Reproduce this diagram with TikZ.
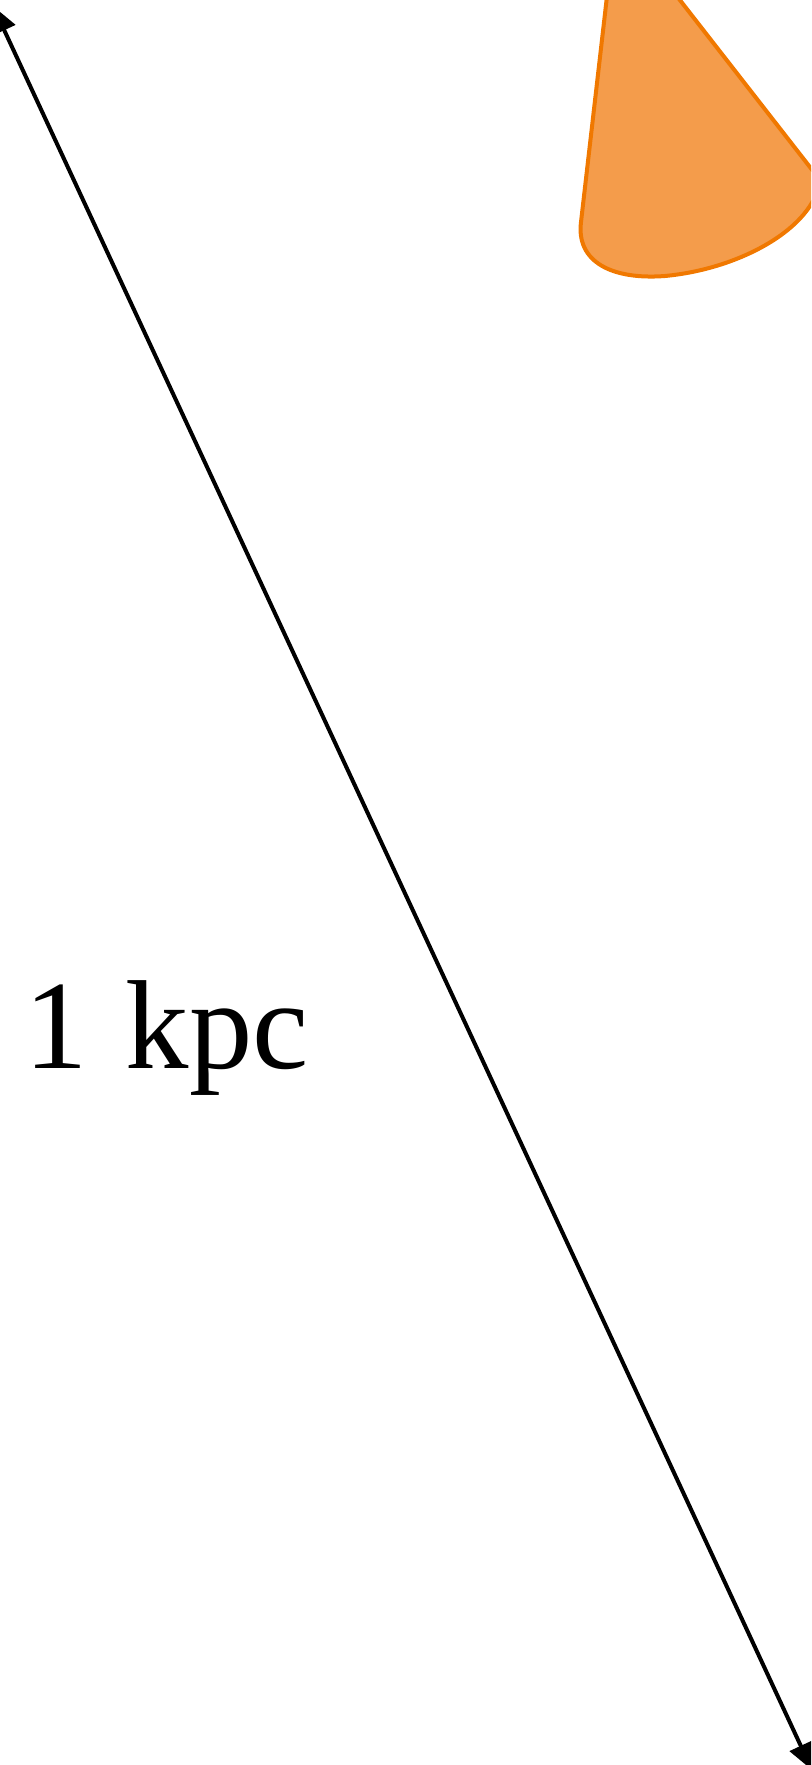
\documentclass[tikz,border=0pt]{standalone}
\usepackage{fontspec}
\setmainfont{Liberation Serif}
\usetikzlibrary{arrows.meta}

\definecolor{conefill}{RGB}{244,156,75}
\definecolor{coneline}{RGB}{240,120,0}

\begin{document}
\begin{tikzpicture}[
    x=0.75pt, y=-0.75pt,
    scalebar/.style={{Triangle[length=20pt, width=18pt]}-{Triangle[length=20pt, width=18pt]}, line width=3pt},
    cone/.style={fill=conefill, draw=coneline, line width=3pt, line join=round},
    dist/.style={font=\fontsize{95}{114}\selectfont, inner sep=0pt, anchor=base west}
  ]
    \useasboundingbox (0,0) rectangle (811,1765);
    \clip (0,0) rectangle (811,1765);

    % beam cone, apex outside the frame
    \draw[cone] (616,-82) -- (581,222)
      .. controls (576,262) and (612,280) .. (665,276)
      .. controls (740,269) and (814,228) .. (820,180) -- cycle;

    \coordinate (top) at (-7,6);
    \coordinate (bottom) at (812,1770);
    \draw[scalebar] (top) -- (bottom);

    \node[dist] (kpc) at (24,1068) {1\hspace{5pt} kpc};
  \end{tikzpicture}
\end{document}
